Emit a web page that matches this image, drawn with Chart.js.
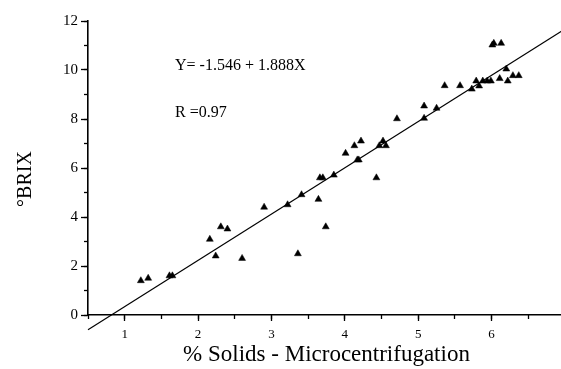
<!DOCTYPE html>
<html>
<head>
<meta charset="utf-8">
<script src="https://cdn.jsdelivr.net/npm/chart.js@4.4.0/dist/chart.umd.min.js"></script>
<style>
  html, body { margin: 0; padding: 0; background: #fff; overflow: hidden; }
  #wrap { width: 580px; height: 369px; }
</style>
</head>
<body>
<div id="wrap"><canvas id="c" width="580" height="369"></canvas></div>
<script>
// ---- data ----
const solidsX = [1.22, 1.32, 1.61, 1.65, 2.16, 2.24, 2.31, 2.40, 2.60, 2.90,
  3.22, 3.36, 3.41, 3.64, 3.66, 3.70, 3.74, 3.85, 4.01, 4.13,
  4.17, 4.19, 4.22, 4.43, 4.47, 4.52, 4.56, 4.71, 5.08, 5.08,
  5.25, 5.36, 5.57, 5.73, 5.79, 5.83, 5.88, 5.94, 5.99, 6.01,
  6.03, 6.11, 6.13, 6.20, 6.22, 6.29, 6.37];
const brixY = [1.40, 1.50, 1.60, 1.60, 3.09, 2.41, 3.60, 3.51, 2.31, 4.40,
  4.50, 2.50, 4.91, 4.72, 5.60, 5.60, 3.60, 5.71, 6.60, 6.91,
  6.33, 6.33, 7.10, 5.60, 6.91, 7.10, 6.91, 8.01, 8.03, 8.53,
  8.44, 9.36, 9.36, 9.22, 9.55, 9.35, 9.55, 9.55, 9.55, 11.02,
  11.09, 9.65, 11.09, 10.04, 9.55, 9.77, 9.77];
// regression line endpoints (Y = -1.546 + 1.888X)
const fitX = [0.5, 7.0];
const fitY = [-0.602, 11.67];
const xTickLabels = [1, 2, 3, 4, 5, 6, 7];
const yTickLabels = [0, 2, 4, 6, 8, 10, 12];
const xTitle = '% Solids - Microcentrifugation';
const yTitle = '\u00B0BRIX';
const equationText = 'Y= -1.546 + 1.888X';
const rText = 'R =0.97';

const serif = '"Liberation Serif", "Times New Roman", "DejaVu Serif", serif';

const textPlugin = {
  id: 'texts',
  afterDraw(chart) {
    const ctx = chart.ctx;
    ctx.save();
    ctx.fillStyle = '#000';
    ctx.font = '16px ' + serif;
    ctx.textBaseline = 'alphabetic';
    ctx.textAlign = 'left';
    ctx.fillText(equationText, 175, 70);
    ctx.fillText(rText, 175, 117);
    ctx.translate(26, 179);
    ctx.rotate(-Math.PI / 2);
    ctx.textAlign = 'center';
    ctx.textBaseline = 'middle';
    ctx.font = '20px ' + serif;
    ctx.fillText(yTitle, 0, 0);
    ctx.restore();
  }
};

const points = solidsX.map((x, i) => ({ x: x, y: brixY[i] }));
const fitLine = fitX.map((x, i) => ({ x: x, y: fitY[i] }));

const tickGrid = (len) => ({ drawOnChartArea: false, drawTicks: true, tickLength: len, tickColor: '#000', tickWidth: 1.3 });

new Chart(document.getElementById('c'), {
  type: 'scatter',
  data: {
    datasets: [
      {
        type: 'line',
        data: fitLine,
        borderColor: '#000',
        borderWidth: 1.2,
        pointRadius: 0,
        fill: false,
        clip: false,
        order: 2
      },
      {
        data: points,
        pointStyle: 'triangle',
        pointRadius: 4,
        backgroundColor: '#000',
        borderColor: '#000',
        borderWidth: 0.5,
        order: 1
      }
    ]
  },
  options: {
    responsive: false,
    animation: false,
    devicePixelRatio: 1,
    layout: { padding: { left: 0, right: 15, top: 21, bottom: 0 } },
    plugins: { legend: { display: false }, tooltip: { enabled: false } },
    scales: {
      x: {
        type: 'linear',
        min: 0.5, max: 7,
        afterFit: (s) => { s.height = 54; },
        afterBuildTicks: (s) => { s.ticks = xTickLabels.map(v => ({ value: v })); },
        ticks: {
          autoSkip: false,
          maxRotation: 0,
          padding: 6,
          color: '#000',
          font: { family: serif, size: 13 }
        },
        grid: tickGrid(6),
        border: { display: true, color: '#000', width: 1.6 },
        title: {
          display: true, text: xTitle, color: '#000',
          font: { family: serif, size: 23 },
          padding: { top: 0, bottom: 0 }
        }
      },
      xMinor: {
        type: 'linear', axis: 'x',
        position: { y: 0 },
        min: 0.5, max: 7,
        ticks: { display: false, stepSize: 0.5, autoSkip: false },
        grid: tickGrid(4),
        border: { display: false }
      },
      y: {
        type: 'linear',
        min: 0, max: 12,
        afterFit: (s) => { s.width = 88; },
        afterBuildTicks: (s) => { s.ticks = yTickLabels.map(v => ({ value: v })); },
        ticks: {
          autoSkip: false,
          padding: 3,
          color: '#000',
          font: { family: serif, size: 15 }
        },
        grid: tickGrid(7),
        border: { display: true, color: '#000', width: 1.6 }
      },
      yMinor: {
        type: 'linear', axis: 'y',
        position: { x: 0.5 },
        min: 0, max: 12,
        ticks: { display: false, stepSize: 1, autoSkip: false },
        grid: tickGrid(4),
        border: { display: false }
      }
    }
  },
  plugins: [textPlugin]
});
</script>
</body>
</html>
